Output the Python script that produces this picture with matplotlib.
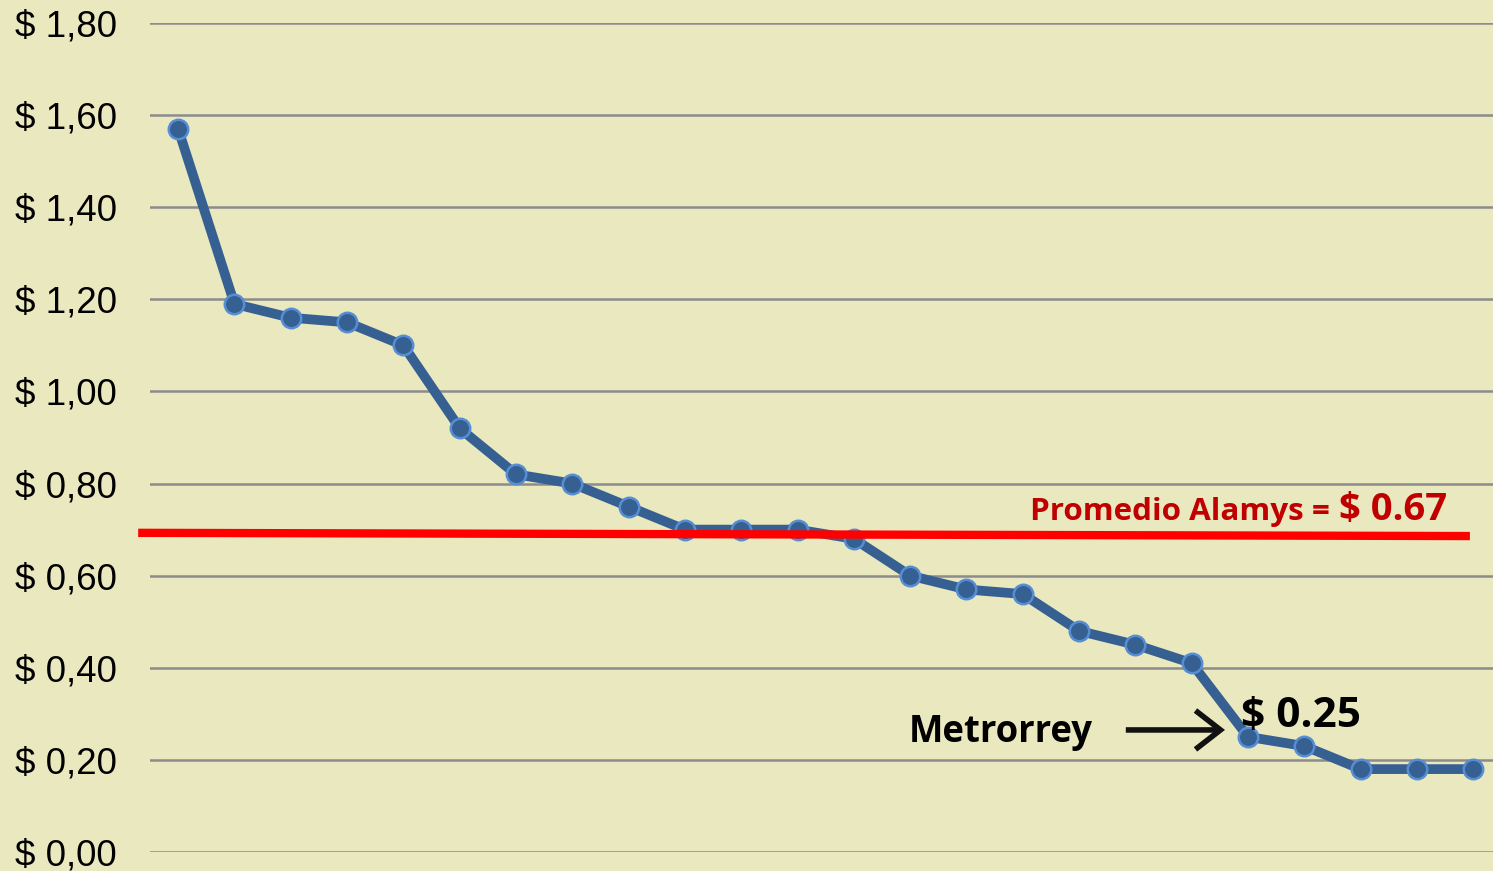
import matplotlib.pyplot as plt
from matplotlib.ticker import FuncFormatter

# valores por operador (US$ por viaje), ordenados de mayor a menor
tarifas = [1.57, 1.19, 1.16, 1.15, 1.10, 0.92, 0.82, 0.80, 0.75, 0.70, 0.70, 0.70,
           0.68, 0.60, 0.57, 0.56, 0.48, 0.45, 0.41, 0.25, 0.23, 0.18, 0.18, 0.18]
promedio_linea = [0.693, 0.686]   # la linea roja dibujada en el grafico
promedio_texto = '$ 0.67'
metrorrey_idx = 19
y_ticks = [0, 0.2, 0.4, 0.6, 0.8, 1.0, 1.2, 1.4, 1.6, 1.8]

fondo = '#EAE8BE'
azul = '#376092'

fig = plt.figure(figsize=(14.93, 8.71), dpi=100, facecolor=fondo)
ax = fig.add_axes([150 / 1493, 19 / 871, 1 - 150 / 1493, 829 / 871])
ax.set_facecolor(fondo)

x = list(range(len(tarifas)))
ax.plot(x, tarifas, '-o', color=azul, lw=7, ms=14, mfc=azul, mec='#558ED5',
        mew=1.8, zorder=3, clip_on=False)

# linea del promedio (sale un poco del area de datos por la izquierda)
ax.plot([-0.71, 22.94], promedio_linea, color='#FF0000', lw=6, zorder=4, clip_on=False,
        solid_capstyle='butt')

ax.set_xlim(-0.5, 23.35)
ax.set_ylim(0, 1.8)
ax.set_yticks(y_ticks)
ax.yaxis.set_major_formatter(FuncFormatter(lambda v, p: '$ ' + f'{v:.2f}'.replace('.', ',')))
ax.set_xticks([])
ax.grid(axis='y', color='#8C8C8C', lw=1.8)
ax.set_axisbelow(True)
for s in ax.spines.values():
    s.set_visible(False)
ax.tick_params(axis='y', length=0, pad=24)
for lbl in ax.get_yticklabels():
    lbl.set_fontfamily('Liberation Sans')
    lbl.set_fontsize(26.5)

fuente = 'Open Sans'
ax.text(22.53, 0.721, promedio_texto, color='#C00000', fontsize=27.5, fontweight='bold',
        family=fuente, ha='right', va='baseline')
ax.text(20.45, 0.721, 'Promedio Alamys =', color='#C00000', fontsize=22.6, fontweight='bold',
        family=fuente, ha='right', va='baseline')

ax.text(12.98, 0.239, 'Metrorrey', color='black', fontsize=26.3, fontweight='bold',
        family=fuente, ha='left', va='baseline')
ax.text(18.87, 0.272, '$ ' + f'{tarifas[metrorrey_idx]:.2f}', color='black', fontsize=30.5,
        fontweight='bold', family=fuente, ha='left', va='baseline', zorder=5)
ax.annotate('', xy=(18.64, 0.265), xytext=(16.78, 0.265),
            arrowprops=dict(arrowstyle='->, head_length=0.45, head_width=0.35',
                            color='#111111', lw=4, mutation_scale=40,
                            capstyle='butt', joinstyle='miter'))

fig.savefig('out.png', dpi=100, facecolor=fondo)
